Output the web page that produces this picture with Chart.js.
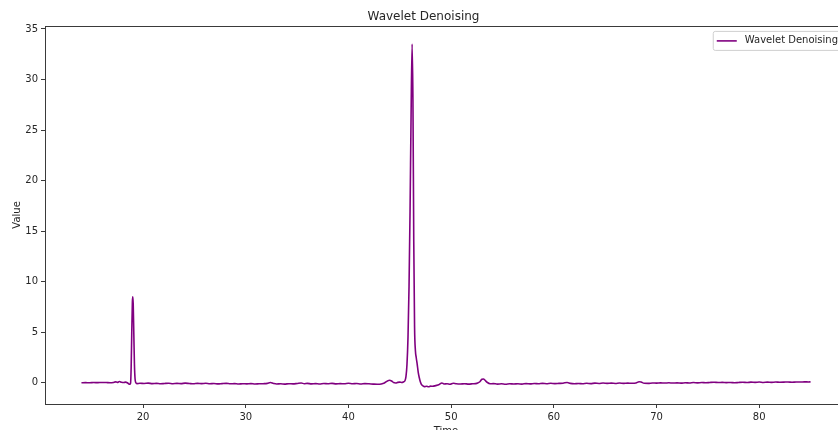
<!DOCTYPE html>
<html>
<head>
<meta charset="utf-8">
<script src="https://cdn.jsdelivr.net/npm/chart.js@4/dist/chart.umd.min.js"></script>
<style>
  html, body { margin: 0; padding: 0; background: #fff; overflow: hidden; }
  #wrap { width: 838px; height: 430px; overflow: hidden; }
  canvas { display: block; }
</style>
</head>
<body>
<div id="wrap"><canvas id="chart" width="892" height="450"></canvas></div>
<script>
// denoised signal samples
const times = [
    14.0, 14.4, 14.8, 15.2, 15.6, 16.0, 16.4, 16.8, 17.1, 17.3, 17.5, 17.7, 17.9, 18.1, 18.3, 18.5, 18.7,
    18.78, 18.84, 18.9, 18.96, 19.0, 19.04, 19.1, 19.16, 19.22, 19.3, 19.4,
    19.7, 20.1, 20.5, 20.9, 21.3, 21.7, 22.1, 22.5, 22.9, 23.3, 23.7, 24.1, 24.5, 24.9, 25.3, 25.7,
    26.1, 26.5, 26.9, 27.3, 27.7, 28.1, 28.5, 28.9, 29.3, 29.7, 30.1, 30.5, 30.9, 31.3, 31.7, 32.1,
    32.4, 32.7, 33.0, 33.4, 33.8, 34.2, 34.6, 35.0, 35.4, 35.7, 36.0, 36.4, 36.8, 37.2, 37.6, 38.0,
    38.4, 38.8, 39.2, 39.6, 40.0, 40.4, 40.8, 41.2, 41.6, 42.0, 42.4, 42.8, 43.2, 43.5, 43.8, 44.0,
    44.2, 44.4, 44.6, 44.8, 45.0, 45.2, 45.35, 45.5, 45.6, 45.7, 45.8, 45.9, 46.0, 46.1, 46.2, 46.28,
    46.36, 46.44, 46.52, 46.6, 46.7, 46.8, 46.9, 47.0, 47.1, 47.25, 47.4, 47.6, 47.8, 48.0, 48.2, 48.5,
    48.8, 49.1, 49.3, 49.6, 49.9, 50.2, 50.5, 50.9, 51.3, 51.7, 52.1, 52.5, 52.8, 53.0, 53.15, 53.3,
    53.5, 53.8, 54.1, 54.5, 54.9, 55.3, 55.7, 56.1, 56.5, 56.9, 57.3, 57.7, 58.1, 58.5, 58.9, 59.3,
    59.7, 60.1, 60.5, 60.9, 61.3, 61.6, 62.0, 62.4, 62.8, 63.2, 63.6, 64.0, 64.4, 64.8, 65.2, 65.6,
    66.0, 66.4, 66.8, 67.2, 67.6, 68.0, 68.3, 68.5, 68.8, 69.2, 69.6, 70.0, 70.4, 70.8, 71.2, 71.6,
    72.0, 72.4, 72.8, 73.2, 73.6, 74.0, 74.4, 74.8, 75.2, 75.6, 76.0, 76.4, 76.8, 77.2, 77.6, 78.0,
    78.4, 78.8, 79.2, 79.6, 80.0, 80.4, 80.8, 81.2, 81.6, 82.0, 82.4, 82.8, 83.2, 83.6, 84.0, 84.4,
    84.8, 85.0
];
const values = [
    0.00, 0.01, 0.00, 0.02, 0.01, 0.03, 0.02, 0.00, 0.03, 0.09, 0.04, 0.12, 0.05, 0.02, 0.06, -0.02, -0.15,
    -0.05, 1.5, 5.0, 8.0, 8.5, 7.8, 4.8, 1.8, 0.4, 0.0, -0.08,
    -0.05, -0.07, -0.04, -0.08, -0.06, -0.10, -0.07, -0.05, -0.09, -0.06, -0.08, -0.04, -0.07, -0.10, -0.06, -0.08,
    -0.05, -0.09, -0.07, -0.11, -0.08, -0.06, -0.10, -0.08, -0.12, -0.09, -0.11, -0.08, -0.12, -0.10, -0.09, -0.06,
    0.02, -0.07, -0.12, -0.10, -0.13, -0.09, -0.11, -0.07, -0.02, -0.10, -0.06, -0.11, -0.08, -0.12, -0.07, -0.10,
    -0.06, -0.11, -0.08, -0.10, -0.05, -0.09, -0.07, -0.12, -0.08, -0.10, -0.13, -0.15, -0.12, -0.02, 0.18, 0.25,
    0.18, 0.02, -0.02, 0.04, 0.06, 0.03, 0.08, 0.2, 0.6, 1.8, 4.5, 9.5, 17.0, 26.5, 33.5, 28.0,
    14.0, 5.5, 3.2, 2.5, 1.8, 1.0, 0.5, 0.1, -0.15, -0.30, -0.38, -0.35, -0.40, -0.33, -0.35, -0.28,
    -0.20, -0.02, -0.12, -0.10, -0.15, -0.05, -0.10, -0.12, -0.09, -0.13, -0.10, -0.06, 0.10, 0.35, 0.38, 0.25,
    0.05, -0.10, -0.08, -0.13, -0.10, -0.14, -0.09, -0.12, -0.10, -0.13, -0.08, -0.11, -0.07, -0.10, -0.06, -0.09,
    -0.05, -0.08, -0.06, -0.04, 0.03, -0.06, -0.10, -0.07, -0.09, -0.05, -0.08, -0.04, -0.07, -0.03, -0.06, -0.04,
    -0.07, -0.03, -0.06, -0.04, -0.05, -0.02, 0.10, 0.08, -0.05, -0.06, -0.02, -0.04, -0.01, -0.03, 0.00, -0.03,
    -0.01, -0.04, 0.00, -0.02, 0.02, -0.01, 0.02, 0.00, 0.03, 0.05, 0.02, 0.04, 0.01, 0.03, 0.00, 0.03,
    0.05, 0.02, 0.06, 0.04, 0.07, 0.03, 0.06, 0.04, 0.07, 0.05, 0.06, 0.08, 0.05, 0.08, 0.07, 0.09,
    0.08, 0.09
];
const xTicks = [20, 30, 40, 50, 60, 70, 80];
const yTicks = [0, 5, 10, 15, 20, 25, 30, 35];

const FONT = "'DejaVu Sans', sans-serif";
const INK = '#262626';

// axes frame and boxed legend in the upper right corner
const frameAndLegend = {
    id: 'frameAndLegend',
    afterDraw(chart) {
        const { ctx, chartArea: a } = chart;
        ctx.save();
        ctx.strokeStyle = '#3a3a3a';
        ctx.lineWidth = 1;
        ctx.strokeRect(Math.round(a.left) + 0.5, Math.round(a.top) + 0.5,
            Math.round(a.right - a.left), Math.round(a.bottom - a.top));

        const ds = chart.data.datasets[0];
        ctx.font = '10px ' + FONT;
        const tw = ctx.measureText(ds.label).width;
        const boxW = 4 + 20 + 8 + tw + 4;
        const boxH = 19;
        const bx = a.right - 5 - boxW;
        const by = a.top + 5;
        ctx.beginPath();
        ctx.roundRect(bx + 0.5, by + 0.5, boxW, boxH, 2);
        ctx.fillStyle = 'rgba(255,255,255,0.8)';
        ctx.fill();
        ctx.strokeStyle = '#cfcfcf';
        ctx.stroke();
        const cy = by + boxH / 2 + 0.5;
        ctx.beginPath();
        ctx.moveTo(bx + 4, cy);
        ctx.lineTo(bx + 24, cy);
        ctx.strokeStyle = ds.borderColor;
        ctx.lineWidth = 1.6;
        ctx.stroke();
        ctx.fillStyle = INK;
        ctx.textBaseline = 'middle';
        ctx.fillText(ds.label, bx + 32, cy);
        ctx.restore();
    }
};

new Chart(document.getElementById('chart'), {
    type: 'line',
    data: {
        datasets: [{
            label: 'Wavelet Denoising',
            data: times.map((t, i) => ({ x: t, y: values[i] })),
            borderColor: '#800080',
            borderWidth: 1.6,
            pointRadius: 0,
            fill: false,
            cubicInterpolationMode: 'monotone'
        }]
    },
    options: {
        responsive: false,
        animation: false,
        devicePixelRatio: 1,
        layout: { padding: { left: 0, right: 45, top: 0, bottom: 0 } },
        plugins: {
            legend: { display: false },
            tooltip: { enabled: false },
            title: {
                display: true,
                text: 'Wavelet Denoising',
                color: INK,
                font: { family: FONT, size: 12, weight: 'normal' },
                padding: { top: 9.5, bottom: 2 }
            }
        },
        scales: {
            x: {
                type: 'linear',
                min: 10.45,
                max: 88.55,
                afterBuildTicks: s => { s.ticks = xTicks.map(v => ({ value: v })); },
                afterFit: s => { s.height = 46; },
                grid: { drawOnChartArea: false, tickLength: 4, tickColor: '#3a3a3a' },
                border: { display: false },
                ticks: { color: INK, font: { family: FONT, size: 10 }, padding: 3, maxRotation: 0 },
                title: {
                    display: true, text: 'Time', color: INK,
                    font: { family: FONT, size: 10 }, padding: { top: 0, bottom: 13 }
                }
            },
            y: {
                min: -2.1,
                max: 35.3,
                afterBuildTicks: s => { s.ticks = yTicks.map(v => ({ value: v })); },
                afterFit: s => { s.width = 45; },
                grid: { drawOnChartArea: false, tickLength: 4, tickColor: '#3a3a3a' },
                border: { display: false },
                ticks: { color: INK, font: { family: FONT, size: 10 }, padding: 3 },
                title: {
                    display: true, text: 'Value', color: INK,
                    font: { family: FONT, size: 10 }, padding: { top: 11, bottom: 0 }
                }
            }
        }
    },
    plugins: [frameAndLegend]
});
</script>
</body>
</html>
